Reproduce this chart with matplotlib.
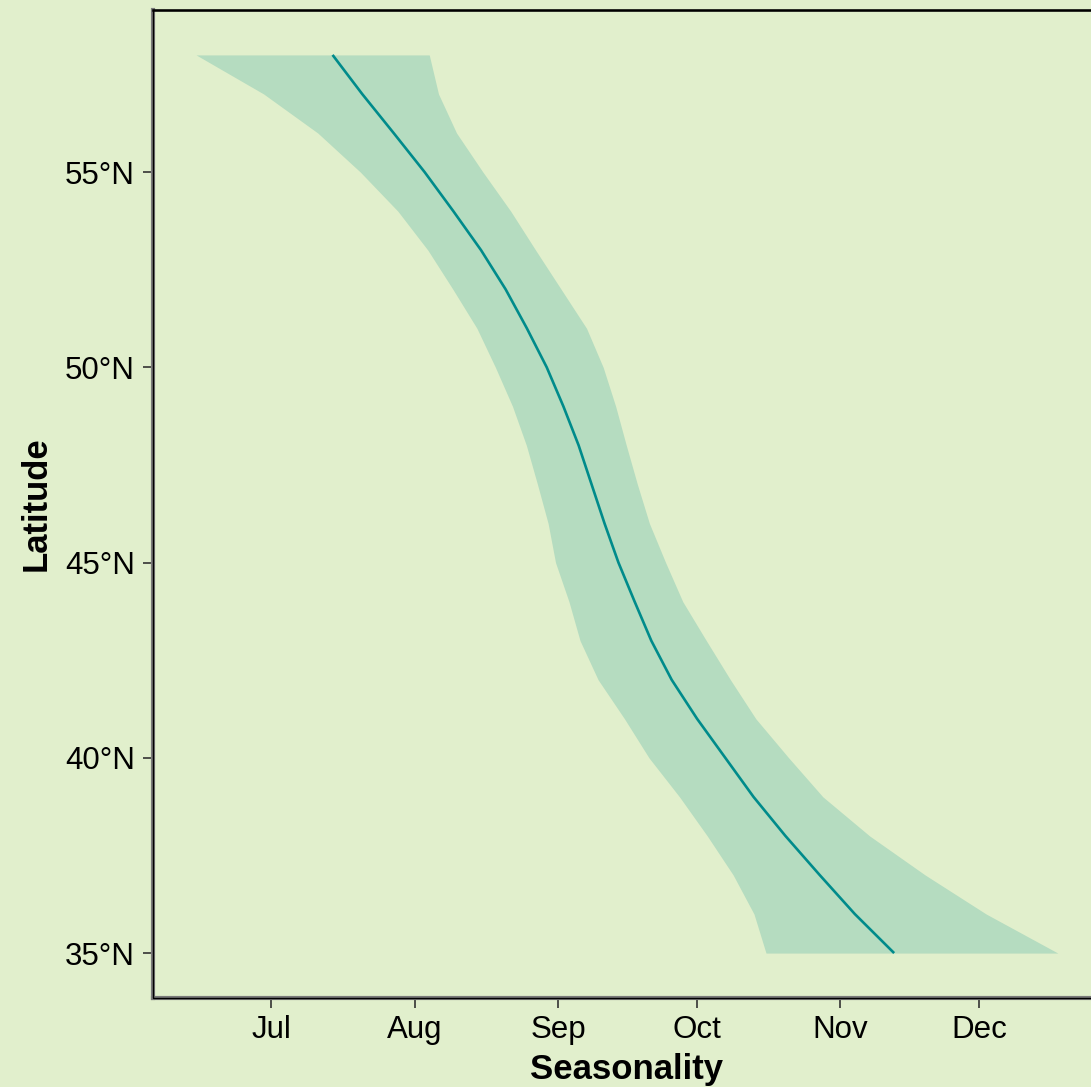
import matplotlib
matplotlib.use('Agg')
from matplotlib import pyplot as plt
from matplotlib.patches import Rectangle

# latitude (deg N) and day of year for the fitted peak and its band
latitude = [58, 57, 56, 55, 54, 53, 52, 51, 50, 49, 48, 47,
            46, 45, 44, 43, 42, 41, 40, 39, 38, 37, 36, 35]
peak_day = [195.2, 201.6, 208.4, 215.1, 221.3, 227.3, 232.6, 237.2, 241.5, 245.1, 248.4, 251.2,
            254.0, 257.0, 260.5, 264.1, 268.5, 274.0, 280.1, 286.2, 293.1, 300.5, 308.1, 316.6]
lower_day = [165.7, 180.3, 192.0, 201.2, 209.3, 215.8, 221.2, 226.4, 230.4, 234.1, 237.1, 239.5,
             241.8, 243.4, 246.3, 248.7, 252.6, 258.3, 263.6, 270.2, 276.2, 281.8, 286.3, 288.9]
upper_day = [216.1, 218.1, 222.0, 227.7, 233.7, 239.1, 244.6, 250.1, 253.7, 256.4, 258.7, 261.1,
             263.7, 267.2, 270.9, 276.0, 281.2, 286.7, 293.8, 301.2, 311.3, 323.3, 336.5, 352.0]

month_ticks = [182, 213, 244, 274, 305, 335]
month_labels = ['Jul', 'Aug', 'Sep', 'Oct', 'Nov', 'Dec']
lat_ticks = [35, 40, 45, 50, 55]
lat_labels = ['35°N', '40°N', '45°N', '50°N', '55°N']

bg = '#E1EFCC'
plt.rcParams['font.family'] = ['Liberation Sans', 'DejaVu Sans']

fig = plt.figure(figsize=(10.91, 10.87), dpi=100, facecolor=bg)
# panel runs a little past the right edge of the picture, as in the original
ax = fig.add_axes([153 / 1091, 1 - 998 / 1087, 948 / 1091, 988 / 1087])
ax.set_facecolor(bg)

ax.fill_betweenx(latitude, lower_day, upper_day, color='#B5DCC0', lw=0)
ax.plot(peak_day, latitude, color='#008B8B', lw=1.9, solid_capstyle='butt')
ax.margins(0.05)

ax.set_xticks(month_ticks, month_labels)
ax.set_yticks(lat_ticks, lat_labels)
ax.tick_params(length=7, width=1.2, color='#333333', labelsize=22.5,
               labelcolor='black', pad=5)
ax.tick_params(axis='y', pad=6)

for side in ['left', 'bottom']:
    ax.spines[side].set_color('#7A7A7A')
    ax.spines[side].set_linewidth(3)
ax.spines['top'].set_color('black')
ax.spines['top'].set_linewidth(1.8)
ax.spines['right'].set_visible(False)
ax.add_patch(Rectangle((0, 0), 1, 1, transform=ax.transAxes, fill=False,
                       ec='black', lw=1.0, clip_on=False, zorder=5))

ax.set_xlabel('Seasonality', fontsize=25, fontweight='bold', labelpad=6)
ax.set_ylabel('Latitude', fontsize=25, fontweight='bold', labelpad=9)

fig.savefig('out.png', dpi=100, facecolor=bg)
